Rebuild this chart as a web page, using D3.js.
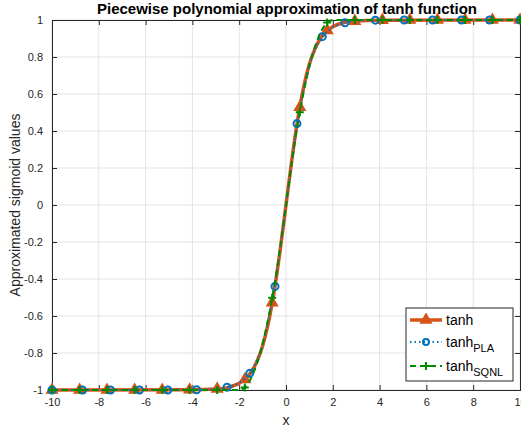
<!DOCTYPE html>
<html>
<head>
<meta charset="utf-8">
<script src="https://cdn.jsdelivr.net/npm/d3@7"></script>
<style>
  body { margin: 0; background: #fff; }
  text { font-family: "Liberation Sans", Arial, Helvetica, sans-serif; }
</style>
</head>
<body>
<div class="chart"></div>
<script>
// values
var xTicks = [-10, -8, -6, -4, -2, 0, 2, 4, 6, 8, 10];
var yTicks = [-1, -0.8, -0.6, -0.4, -0.2, 0, 0.2, 0.4, 0.6, 0.8, 1];

var curveX = [-10, -4, -3, -2.5, -2, -1.75, -1.5, -1.25, -1, -0.75, -0.5, -0.25, 0,
              0.25, 0.5, 0.75, 1, 1.25, 1.5, 1.75, 2, 2.5, 3, 4, 10];
var tanhY = [-1, -0.999, -0.995, -0.987, -0.964, -0.941, -0.905, -0.848, -0.762, -0.635, -0.462, -0.245, 0,
             0.245, 0.462, 0.635, 0.762, 0.848, 0.905, 0.941, 0.964, 0.987, 0.995, 0.999, 1];
var plaY = [-1, -0.999, -0.995, -0.985, -0.96, -0.935, -0.9, -0.84, -0.76, -0.62, -0.45, -0.23, 0,
            0.23, 0.45, 0.62, 0.76, 0.84, 0.9, 0.935, 0.96, 0.985, 0.995, 0.999, 1];
var sqnlY = [-1, -1, -1, -1, -1, -0.984, -0.938, -0.859, -0.75, -0.609, -0.438, -0.234, 0,
             0.234, 0.438, 0.609, 0.75, 0.859, 0.938, 0.984, 1, 1, 1, 1, 1];

// marker positions
var markX = [-10, -8.82, -7.65, -6.47, -5.29, -4.12, -2.94, -1.76, -0.59,
             0.59, 1.76, 2.94, 4.12, 5.29, 6.47, 7.65, 8.82, 10];
var tanhMarkY = [-1, -1, -1, -1, -1, -0.999, -0.994, -0.943, -0.528,
                 0.528, 0.943, 0.994, 0.999, 1, 1, 1, 1, 1];
var sqnlMarkY = [-1, -1, -1, -1, -1, -1, -1, -0.986, -0.502,
                 0.502, 0.986, 1, 1, 1, 1, 1, 1, 1];
var plaMarkX = [-10, -8.7, -7.5, -6.26, -5.05, -3.82, -2.52, -1.55, -0.47,
                0.47, 1.55, 2.52, 3.82, 5.05, 6.26, 7.5, 8.7, 10];
var plaMarkY = [-1, -1, -1, -1, -1, -0.999, -0.985, -0.91, -0.44,
                0.44, 0.91, 0.985, 0.999, 1, 1, 1, 1, 1];

function init() {
    var w = 521;
    var h = 431;
    var left = 52, right = 520, top = 20, bottom = 390;

    var orange = "#D95319";
    var blue = "#0072BD";
    var green = "#008a00";
    var axisCol = "#262626";

    var x = d3.scaleLinear().domain([-10, 10]).range([left, right]);
    var y = d3.scaleLinear().domain([-1, 1]).range([bottom, top]);

    var svg = d3.select(".chart")
        .append("svg")
        .attr("width", w)
        .attr("height", h);

    svg.append("rect")
        .attr("x", left).attr("y", top)
        .attr("width", right - left).attr("height", bottom - top)
        .attr("fill", "#fff");

    // grid
    svg.append("g")
        .selectAll("line")
        .data(xTicks)
        .enter()
        .append("line")
        .attr("x1", function(d) { return x(d); })
        .attr("x2", function(d) { return x(d); })
        .attr("y1", top).attr("y2", bottom)
        .attr("stroke", "#e3e3e3");
    svg.append("g")
        .selectAll("line")
        .data(yTicks)
        .enter()
        .append("line")
        .attr("y1", function(d) { return y(d); })
        .attr("y2", function(d) { return y(d); })
        .attr("x1", left).attr("x2", right)
        .attr("stroke", "#e3e3e3");

    var fmt = function(d) { return String(+d.toFixed(1)); };

    // axes, ticks inside like matlab
    var xb = d3.axisBottom(x).tickValues(xTicks).tickSize(-5).tickPadding(8).tickFormat(fmt);
    var xt = d3.axisTop(x).tickValues(xTicks).tickSize(-5).tickFormat("");
    var yl = d3.axisLeft(y).tickValues(yTicks).tickSize(-5).tickPadding(9).tickFormat(fmt);
    var yr = d3.axisRight(y).tickValues(yTicks).tickSize(-5).tickFormat("");

    function style(g) {
        g.select(".domain").attr("stroke", axisCol);
        g.selectAll(".tick line").attr("stroke", axisCol);
        g.selectAll(".tick text").attr("fill", axisCol)
            .style("font-size", "11px")
            .style("font-family", "'Liberation Sans', Arial, sans-serif");
    }

    svg.append("g").attr("transform", "translate(0," + bottom + ")").call(xb).call(style);
    svg.append("g").attr("transform", "translate(0," + top + ")").call(xt).call(style);
    svg.append("g").attr("transform", "translate(" + left + ",0)").call(yl).call(style);
    svg.append("g").attr("transform", "translate(" + right + ",0)").call(yr).call(style);

    // series lines
    var line = function(ys, curve) {
        return d3.line()
            .x(function(d, i) { return x(curveX[i]); })
            .y(function(d) { return y(d); })
            .curve(curve)(ys);
    };

    svg.append("path")
        .attr("d", line(tanhY, d3.curveMonotoneX))
        .attr("fill", "none")
        .attr("stroke", orange)
        .attr("stroke-width", 3.5);

    var tri = d3.symbol().type(d3.symbolTriangle).size(48);
    svg.append("g")
        .selectAll("path")
        .data(markX)
        .enter()
        .append("path")
        .attr("d", tri)
        .attr("transform", function(d, i) {
            return "translate(" + x(d) + "," + y(tanhMarkY[i]) + ")";
        })
        .attr("fill", orange)
        .attr("stroke", orange)
        .attr("stroke-width", 1.5);

    svg.append("path")
        .attr("d", line(plaY, d3.curveMonotoneX))
        .attr("fill", "none")
        .attr("stroke", blue)
        .attr("stroke-width", 2)
        .attr("stroke-dasharray", "1.5,3");

    svg.append("g")
        .selectAll("circle")
        .data(plaMarkX)
        .enter()
        .append("circle")
        .attr("cx", function(d) { return x(d); })
        .attr("cy", function(d, i) { return y(plaMarkY[i]); })
        .attr("r", 3.5)
        .attr("fill", "none")
        .attr("stroke", blue)
        .attr("stroke-width", 2);

    svg.append("path")
        .attr("d", line(sqnlY, d3.curveMonotoneX))
        .attr("fill", "none")
        .attr("stroke", green)
        .attr("stroke-width", 2)
        .attr("stroke-dasharray", "6,4");

    svg.append("g")
        .selectAll("path")
        .data(markX)
        .enter()
        .append("path")
        .attr("d", "M-4,0H4M0,-4V4")
        .attr("transform", function(d, i) {
            return "translate(" + x(d) + "," + y(sqnlMarkY[i]) + ")";
        })
        .attr("fill", "none")
        .attr("stroke", green)
        .attr("stroke-width", 2);

    // title and axis labels
    svg.append("text")
        .attr("x", (left + right) / 2 + 1)
        .attr("y", 14)
        .attr("text-anchor", "middle")
        .style("font-size", "15px")
        .style("font-weight", "bold")
        .attr("fill", "#000")
        .text("Piecewise polynomial approximation of tanh function");

    svg.append("text")
        .attr("x", (left + right) / 2)
        .attr("y", 425)
        .attr("text-anchor", "middle")
        .style("font-size", "14px")
        .attr("fill", axisCol)
        .text("x");

    svg.append("text")
        .attr("transform", "translate(20," + (top + bottom) / 2 + ") rotate(-90)")
        .attr("text-anchor", "middle")
        .style("font-size", "14px")
        .attr("fill", axisCol)
        .text("Approximated sigmoid values");

    // legend
    var lg = svg.append("g").attr("transform", "translate(406,308)");
    lg.append("rect")
        .attr("width", 107).attr("height", 73)
        .attr("fill", "#fff")
        .attr("stroke", axisCol)
        .attr("stroke-width", 1);

    var rows = [
        { name: "tanh", sub: "", col: orange, dash: null, width: 3.5, y: 12 },
        { name: "tanh", sub: "PLA", col: blue, dash: "1.5,3", width: 2, y: 34 },
        { name: "tanh", sub: "SQNL", col: green, dash: "6,4", width: 2, y: 58 }
    ];

    var item = lg.selectAll("g.item")
        .data(rows)
        .enter()
        .append("g")
        .attr("class", "item")
        .attr("transform", function(d) { return "translate(0," + d.y + ")"; });

    item.append("line")
        .attr("x1", 4).attr("x2", 36)
        .attr("stroke", function(d) { return d.col; })
        .attr("stroke-width", function(d) { return d.width; })
        .attr("stroke-dasharray", function(d) { return d.dash; });

    item.filter(function(d, i) { return i == 0; })
        .append("path")
        .attr("d", tri)
        .attr("transform", "translate(20,0)")
        .attr("fill", orange).attr("stroke", orange).attr("stroke-width", 1.5);
    item.filter(function(d, i) { return i == 1; })
        .append("circle")
        .attr("cx", 20).attr("r", 3)
        .attr("fill", "none").attr("stroke", blue).attr("stroke-width", 2);
    item.filter(function(d, i) { return i == 2; })
        .append("path")
        .attr("d", "M16,0H24M20,-4V4")
        .attr("stroke", green).attr("stroke-width", 2);

    var t = item.append("text")
        .attr("x", 40)
        .attr("y", 5)
        .style("font-size", "14px")
        .attr("fill", "#000");
    t.append("tspan").text(function(d) { return d.name; });
    t.append("tspan")
        .attr("dy", 5)
        .style("font-size", "11px")
        .text(function(d) { return d.sub; });
}

init()
</script>
</body>
</html>
